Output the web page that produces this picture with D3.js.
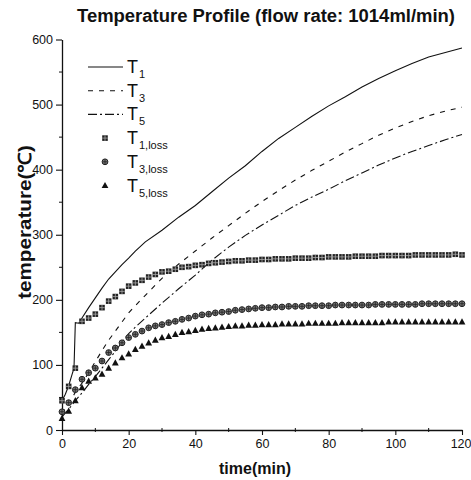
<!DOCTYPE html>
<html><head><meta charset="utf-8">
<script src="https://cdn.jsdelivr.net/npm/d3@7/dist/d3.min.js"></script>
<style>body{margin:0;background:#fff}svg{display:block}text{font-family:"Liberation Sans",Arial,sans-serif;fill:#111}</style>
</head><body>
<script>
// ---- data ----
const lineTime = [0,1,2,3,3.6,4,5,6,8,10,12,14,16,18,20,22,25,30,35,40,45,50,55,60,65,70,75,80,85,90,95,100,105,110,115,120];
const T1 = [45,55,68,85,95,165,164,172,188,203,218,232,243,254,264,275,289,307,327,345,366,387,406,428,448,465,482,498,512,527,540,552,563,573,580,587];
const T3Time = [0,2,4,6,8,10,12,14,16,18,20,22,25,30,35,40,45,50,55,60,65,70,75,80,85,90,95,100,105,110,115,120];
const T3 = [25,40,58,72,88,105,122,138,152,166,180,191,207,233,255,275,295,314,333,351,368,384,399,413,427,440,453,464,474,483,490,496];
const T5 = [20,32,45,57,70,82,95,108,121,135,148,158,172,195,217,238,261,281,299,315,330,345,358,370,383,395,407,418,428,437,446,454];
const lossTime = d3.range(0,121,2);
const T1loss = [45,67,95,167,172,178,188,198,205,213,221,226,230,235,239,243,244,247,250,251,253,254,256,257,258,259,260,260,261,261,262,262,263,263,263,264,264,264,265,265,266,266,266,266,267,267,267,267,268,268,268,268,268,269,269,269,269,269,269,270,269];
const T3loss = [28,42,62,78,88,95,106,119,126,134,142,147,152,157,160,162,165,167,170,172,175,177,178,180,181,182,184,185,186,187,188,188,189,189,190,190,190,191,191,191,191,192,192,192,192,192,192,193,193,193,193,193,193,193,194,194,194,194,194,194,194];
const T5loss = [18,29,45,65,75,80,86,95,103,111,117,124,129,134,138,142,144,147,150,151,153,155,156,157,158,159,160,160,161,161,162,162,162,163,163,163,163,164,164,164,164,164,165,165,165,165,165,165,165,166,166,166,166,166,166,166,166,166,166,166,166];
const xTicks = [0,20,40,60,80,100,120];
const yTicks = [0,100,200,300,400,500,600];
const titleText = "Temperature Profile (flow rate: 1014ml/min)";
const xLabel = "time(min)";
const yLabel = "temperature(\u2103)";
const legendItems = [
  {sub:"1", kind:"solid"},{sub:"3", kind:"dash"},{sub:"5", kind:"dashdot"},
  {sub:"1,loss", kind:"square"},{sub:"3,loss", kind:"circle"},{sub:"5,loss", kind:"triangle"}];

// ---- drawing ----
const W=471,H=480;
const svg=d3.select("body").append("svg").attr("width",W).attr("height",H);
const x=d3.scaleLinear().domain([0,120]).range([62,462]);
const y=d3.scaleLinear().domain([0,600]).range([430,39.5]);
const ink="#111";

svg.append("text").attr("x",77).attr("y",22).attr("font-size",17.5).attr("font-weight","bold")
  .attr("textLength",378).attr("lengthAdjust","spacingAndGlyphs").text(titleText);

// axes
const gx=svg.append("g").attr("transform",`translate(0,${y(0)})`)
  .call(d3.axisBottom(x).tickValues(xTicks).tickSize(5).tickPadding(4).tickSizeOuter(0));
const gy=svg.append("g").attr("transform",`translate(${x(0)},0)`)
  .call(d3.axisLeft(y).tickValues(yTicks).tickSize(6).tickPadding(3).tickSizeOuter(0));
[gx,gy].forEach(g=>{g.select(".domain").attr("stroke",ink).attr("stroke-width",1.3);
  g.selectAll(".tick line").attr("stroke",ink).attr("stroke-width",1.1);
  g.selectAll(".tick text").attr("font-size",12.5).attr("fill",ink).attr("font-family","Liberation Sans, Arial, sans-serif");});
gx.selectAll(".tick text").filter(d=>d===120).attr("text-anchor","end").attr("dx","9");
// minor ticks
svg.append("g").selectAll("line").data(d3.range(10,121,20)).join("line")
  .attr("x1",d=>x(d)).attr("x2",d=>x(d)).attr("y1",y(0)-2).attr("y2",y(0)+2).attr("stroke",ink);
svg.append("g").selectAll("line").data(d3.range(50,600,100)).join("line")
  .attr("y1",d=>y(d)).attr("y2",d=>y(d)).attr("x1",x(0)-3).attr("x2",x(0)+1).attr("stroke",ink);

svg.append("text").attr("x",255).attr("y",474).attr("text-anchor","middle").attr("font-size",16).attr("font-weight","bold").text(xLabel);
svg.append("text").attr("transform","translate(31,222) rotate(-90)").attr("text-anchor","middle").attr("font-size",18).attr("font-weight","bold")
  .attr("textLength",154).attr("lengthAdjust","spacingAndGlyphs").text(yLabel);

const styles={solid:null,dash:"5,6",dashdot:"9,3,2,3"};
function drawLine(ts,vs,kind){
  const data=ts.map((t,i)=>[t,vs[i]]);
  svg.append("path").datum(data).attr("fill","none").attr("stroke",ink).attr("stroke-width",1.1)
    .attr("stroke-dasharray",styles[kind]).attr("d",d3.line().x(d=>x(d[0])).y(d=>y(d[1])));
}
drawLine(lineTime,T1,"solid");
drawLine(T3Time,T3,"dash");
drawLine(T3Time,T5,"dashdot");

function marker(g,kind,cx,cy){
  if(kind==="square"){
    g.append("rect").attr("x",cx-2.8).attr("y",cy-2.8).attr("width",5.6).attr("height",5.6).attr("fill","#222");
    g.append("path").attr("d",`M${cx-2.8},${cy}H${cx+2.8}M${cx},${cy-2.8}V${cy+2.8}`).attr("stroke","#aaa").attr("stroke-width",0.8);
  } else if(kind==="circle"){
    g.append("circle").attr("cx",cx).attr("cy",cy).attr("r",2.9).attr("fill","#777").attr("stroke","#222").attr("stroke-width",1);
    g.append("path").attr("d",`M${cx-2.5},${cy}H${cx+2.5}M${cx},${cy-2.5}V${cy+2.5}`).attr("stroke","#222").attr("stroke-width",0.8);
  } else {
    g.append("path").attr("d",`M${cx},${cy-3.6}L${cx+3.4},${cy+2.6}L${cx-3.4},${cy+2.6}Z`).attr("fill","#111");
  }
}
function drawMarkers(vs,kind){
  const g=svg.append("g");
  lossTime.forEach((t,i)=>marker(g,kind,x(t),y(vs[i])));
}
drawMarkers(T1loss,"square");
drawMarkers(T3loss,"circle");
drawMarkers(T5loss,"triangle");

// legend
const lg=svg.append("g");
legendItems.forEach((it,i)=>{
  const cy=67+i*23.7;
  if(it.kind==="solid"||it.kind==="dash"||it.kind==="dashdot"){
    lg.append("line").attr("x1",88).attr("x2",123).attr("y1",cy).attr("y2",cy).attr("stroke",ink).attr("stroke-width",1.1).attr("stroke-dasharray",styles[it.kind]);
  } else marker(lg,it.kind,105,cy);
  const t=lg.append("text").attr("x",127).attr("y",cy+6).attr("font-size",18).attr("fill","#333");
  t.append("tspan").text("T");
  t.append("tspan").attr("dy",5).attr("dx",1).attr("font-size",11).text(it.sub);
});
</script>
</body></html>
